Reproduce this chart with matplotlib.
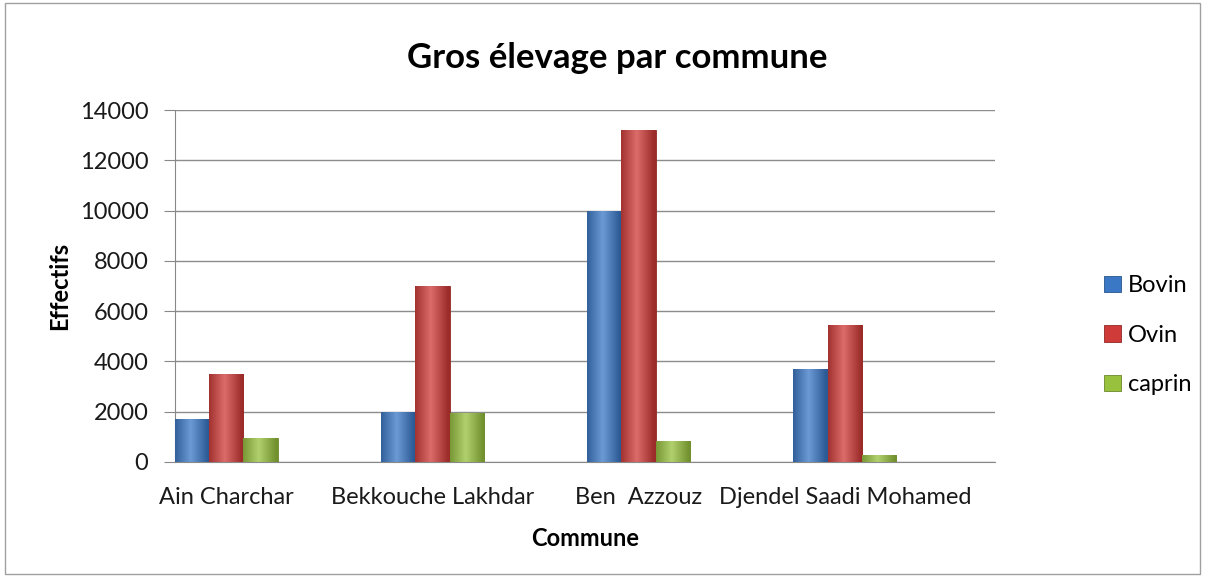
import matplotlib.pyplot as plt
import matplotlib.colors as mcolors
import numpy as np

# Données
communes = ["Ain Charchar", "Bekkouche Lakhdar", "Ben  Azzouz", "Djendel Saadi Mohamed"]
bovin = [1700, 2000, 10000, 3700]
ovin = [3500, 7000, 13200, 5450]
caprin = [950, 1950, 850, 280]

series = ["Bovin", "Ovin", "caprin"]
couleurs = ["#3a78c6", "#cf3b38", "#98c23e"]

plt.rcParams["font.family"] = ["Lato", "DejaVu Sans"]

fig = plt.figure(figsize=(12.05, 5.76), dpi=100)
ax = fig.add_axes([0.145, 0.198, 0.681, 0.611])

x = np.arange(len(communes))
width = 0.167

def barre_degradee(ax, bars, couleur):
    c = np.array(mcolors.to_rgb(couleur))
    clair = np.clip(c + (1 - c) * 0.25, 0, 1)
    fonce = c * 0.75
    # dégradé horizontal : sombre -> clair -> sombre
    t = np.linspace(0, 1, 64)
    prof = 1 - np.abs(t - 0.45) * 2
    prof = np.clip(prof, 0, 1)
    grad = fonce[None, :] + (clair - fonce)[None, :] * prof[:, None]
    img = grad[None, :, :]
    for b in bars:
        x0, y0 = b.get_x(), b.get_y()
        w, h = b.get_width(), b.get_height()
        im = ax.imshow(img, extent=[x0, x0 + w, y0, y0 + h], aspect="auto",
                       zorder=3, interpolation="bilinear")
        im.set_clip_path(b)

for i, (nom, vals) in enumerate(zip(series, [bovin, ovin, caprin])):
    bars = ax.bar(x + (i - 1) * width, vals, width, color=couleurs[i],
                  edgecolor=mcolors.to_hex(np.array(mcolors.to_rgb(couleurs[i])) * 0.7),
                  linewidth=0.6, label=nom, zorder=3)
    barre_degradee(ax, bars, couleurs[i])

ax.set_xlim(-0.25, 3.73)
ax.set_ylim(0, 14000)
ax.set_yticks(np.arange(0, 14001, 2000))
ax.set_xticks(x)
ax.set_xticklabels(communes, fontsize=17, color="#1a1a1a")
ax.tick_params(axis="y", labelsize=17, labelcolor="#1a1a1a", length=8, color="#888888", pad=11)
ax.tick_params(axis="x", length=0, pad=18)
ax.yaxis.grid(True, color="#8c8c8c", linewidth=1)
ax.set_axisbelow(True)
for s in ["top", "right"]:
    ax.spines[s].set_visible(False)
ax.spines["left"].set_color("#888888")
ax.spines["bottom"].set_color("#888888")

ax.set_ylabel("Effectifs", fontsize=17, fontweight="bold", labelpad=6)
ax.set_xlabel("Commune", fontsize=17, fontweight="bold", labelpad=14)
fig.text(0.512, 0.9, "Gros élevage par commune", fontsize=25, fontweight="bold",
         ha="center", va="center")

leg = ax.legend(loc="center left", bbox_to_anchor=(1.107, 0.36), frameon=False,
                fontsize=17, handlelength=0.7, handleheight=0.7, handletextpad=0.3,
                labelspacing=1.2)

# cadre extérieur
fig.patches.append(plt.Rectangle((0.004, 0.004), 0.992, 0.99, transform=fig.transFigure,
                                 fill=False, edgecolor="#a0a0a0", linewidth=1))

plt.savefig("out.png", dpi=100)
plt.close()
